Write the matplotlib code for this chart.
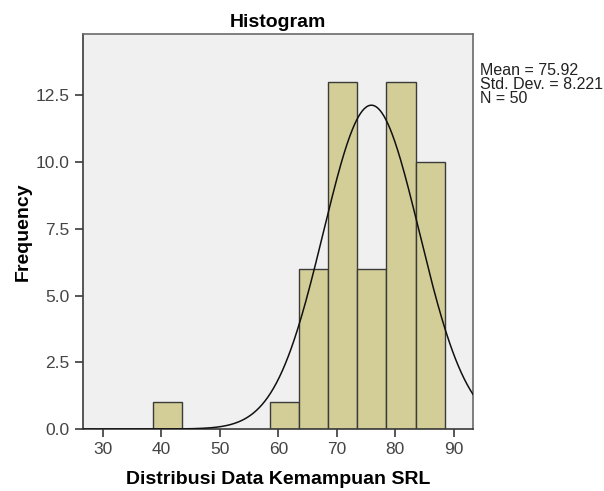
import numpy as np
import matplotlib
matplotlib.use('Agg')
import matplotlib.pyplot as plt

plt.rcParams['font.family'] = ['Liberation Sans', 'DejaVu Sans']

# histogram bins (width 5) and counts
bin_left = [38.5, 58.5, 63.5, 68.5, 73.5, 78.5, 83.5]
counts = [1, 1, 6, 13, 6, 13, 10]
bin_width = 5
mean = 75.92
sd = 8.221
n = 50

xticks = [30, 40, 50, 60, 70, 80, 90]
yticks = [0.0, 2.5, 5.0, 7.5, 10.0, 12.5]

fig = plt.figure(figsize=(6.04, 4.91), dpi=100)
ax = fig.add_axes([0.1374, 0.1263, 0.6457, 0.8045])
ax.set_facecolor('#F0F0F0')

ax.bar(bin_left, counts, width=bin_width, align='edge', color='#D3CE97',
       edgecolor='#3a3a3a', linewidth=1.0, zorder=2)

# normal curve scaled to counts
xs = np.linspace(26.6, 93.3, 400)
ys = n * bin_width / (sd * np.sqrt(2 * np.pi)) * np.exp(-0.5 * ((xs - mean) / sd) ** 2)
ax.plot(xs, ys, color='#111111', linewidth=1.1, zorder=3)

ax.set_xlim(26.6, 93.3)
ax.set_ylim(0, 14.8)
ax.set_xticks(xticks)
ax.set_yticks(yticks)
ax.set_yticklabels(['%.1f' % v for v in yticks])
ax.tick_params(axis='both', colors='#3a3a3a', labelcolor='#444444', labelsize=12.5,
               length=6, width=1.2)
for s in ax.spines.values():
    s.set_color('#6a6a6a')
    s.set_linewidth(1.2)
ax.spines['left'].set_color('#3a3a3a')
ax.spines['bottom'].set_color('#3a3a3a')

ax.set_title('Histogram', fontsize=14, fontweight='bold', pad=5)
ax.set_xlabel('Distribusi Data Kemampuan SRL', fontsize=14, fontweight='bold', labelpad=10)
ax.set_ylabel('Frequency', fontsize=14, fontweight='bold', labelpad=3)

fig.text(0.795, 0.872, 'Mean = 75.92\nStd. Dev. = 8.221\nN = 50', fontsize=11.5,
         color='#222222', va='top', ha='left', linespacing=0.92)

fig.savefig('out.png', dpi=100)
